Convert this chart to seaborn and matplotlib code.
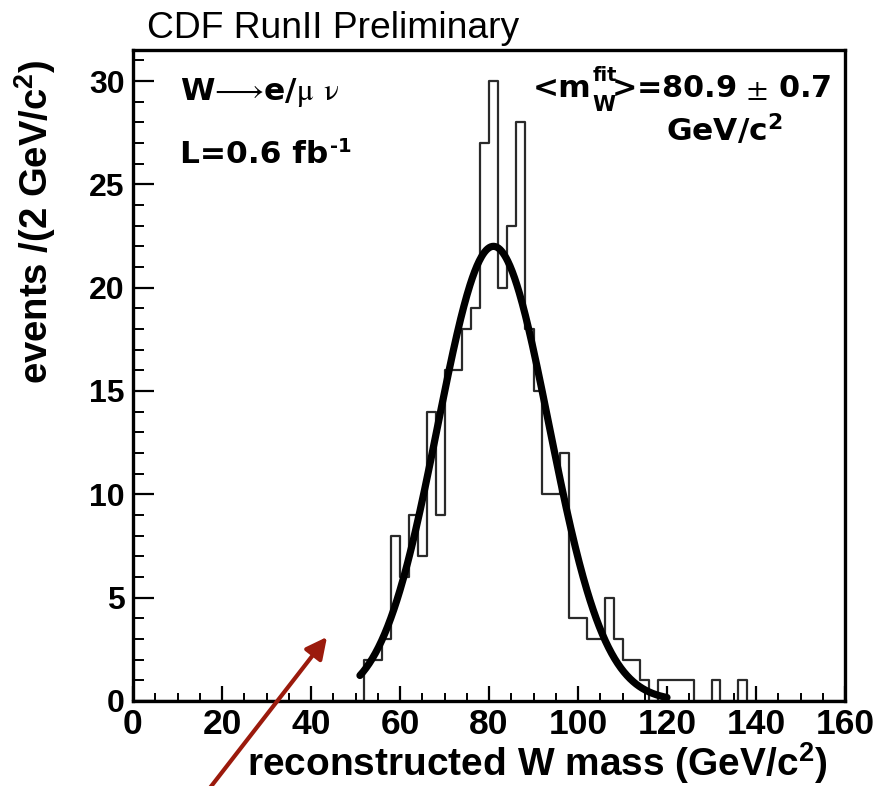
import numpy as np
import pandas as pd
import matplotlib
matplotlib.use("Agg")
import matplotlib.pyplot as plt
from matplotlib import font_manager as fm
from matplotlib.ticker import MultipleLocator
import seaborn as sns

# ---------------- data ----------------
bin_low = list(range(50, 140, 2))          # lower edge of each 2 GeV bin
counts = [0, 2, 2, 3, 8, 6, 9, 7, 14, 9, 16, 16, 18, 19, 27, 30, 20, 23, 28, 18,
          15, 10, 10, 12, 4, 4, 3, 3, 5, 3, 2, 2, 1, 0, 1, 1, 1, 1, 0, 0,
          1, 0, 0, 1, 0]
bin_width = 2
fit_peak = 22.0      # fitted template height
fit_mean = 81.0      # GeV/c^2
fit_sigma = 12.5
fit_range = (51.0, 120.0)
x_ticks = [0, 20, 40, 60, 80, 100, 120, 140, 160]
y_ticks = [0, 5, 10, 15, 20, 25, 30]

# ---------------- fonts / style ----------------
sns.set_style("white")
avail = {f.name for f in fm.fontManager.ttflist}
SANS = "Liberation Sans" if "Liberation Sans" in avail else "DejaVu Sans"
NARROW = "Liberation Sans Narrow" if "Liberation Sans Narrow" in avail else SANS
WIDE = ["DejaVu Sans"]
plt.rcParams["font.family"] = [SANS, "DejaVu Sans"]
plt.rcParams["mathtext.default"] = "regular"
plt.rcParams["mathtext.fontset"] = "stix"
for k in ("text.color", "axes.labelcolor", "xtick.color", "ytick.color",
          "axes.edgecolor"):
    plt.rcParams[k] = "black"

fig = plt.figure(figsize=(8.93, 7.86), dpi=100)
ax = fig.add_axes([133 / 893, 1 - 701 / 786, 712 / 893, 651 / 786])

df = pd.DataFrame({"mass": [b + bin_width / 2 for b in bin_low], "events": counts})
sns.histplot(data=df, x="mass", weights="events",
             binwidth=bin_width, binrange=(x_ticks[0], x_ticks[-1]),
             element="step", fill=False, color="#2a2a2a", linewidth=1.6, ax=ax)

xf = np.linspace(fit_range[0], fit_range[1], 400)
yf = fit_peak * np.exp(-0.5 * ((xf - fit_mean) / fit_sigma) ** 2)
sns.lineplot(x=xf, y=yf, color="black", linewidth=5.2, ax=ax)

ax.set_xlim(x_ticks[0], x_ticks[-1])
ax.set_ylim(0, 31.5)

for s in ax.spines.values():
    s.set_linewidth(2.4)
    s.set_color("black")

ax.xaxis.set_major_locator(MultipleLocator(20))
ax.xaxis.set_minor_locator(MultipleLocator(5))
ax.yaxis.set_major_locator(MultipleLocator(5))
ax.yaxis.set_minor_locator(MultipleLocator(1))
ax.set_xticks(x_ticks)
ax.set_yticks(y_ticks)
ax.tick_params(axis="x", which="major", direction="in", length=11, width=1.6,
               pad=5, bottom=True, top=False)
ax.tick_params(axis="x", which="minor", direction="in", length=6, width=1.4,
               bottom=True, top=False)
ax.tick_params(axis="y", which="major", direction="in", length=15, width=1.6,
               pad=6, left=True, right=False)
ax.tick_params(axis="y", which="minor", direction="in", length=8, width=1.4,
               left=True, right=False)
ax.set_xticklabels([str(t) for t in x_ticks], fontsize=25.5, fontweight="bold",
                   family=[NARROW, "DejaVu Sans"])
ax.set_yticklabels([str(t) for t in y_ticks], fontsize=23, fontweight="bold")

ax.set_xlabel(r"reconstructed W mass (GeV/c$^{2}$)", fontsize=28,
              fontweight="bold", family=[NARROW, "DejaVu Sans"], loc="right")
ax.xaxis.set_label_coords(0.976, -0.06)
ax.set_ylabel(r"events /(2 GeV/c$^{2}$)", fontsize=27.5, fontweight="bold",
              loc="top")
ax.yaxis.set_label_coords(-0.105, 0.985)

# ---------------- annotations ----------------
FS = 22.5
ax.text(0.066, 0.923, r"W$\mathrm{⟶}$e/$\mathrm{\mu}$ $\mathrm{\nu}$",
        transform=ax.transAxes, fontsize=FS, fontweight="bold",
        family=WIDE, va="baseline", ha="left")

t_l = ax.text(0.066, 0.826, "L=0.6 fb", transform=ax.transAxes,
              fontsize=FS, fontweight="bold", family=WIDE,
              va="baseline", ha="left")
ax.annotate("-1", xy=(1.0, 1.0), xycoords=t_l, xytext=(1, 2),
            textcoords="offset points", fontsize=14, fontweight="bold",
            family=WIDE, va="top", ha="left")

t_m = ax.text(0.562, 0.928, "<m", transform=ax.transAxes,
              fontsize=FS, fontweight="bold", family=WIDE,
              va="baseline", ha="left")
t_sup = ax.annotate("fit", xy=(1.0, 1.0), xycoords=t_m, xytext=(0.5, 6),
                    textcoords="offset points", fontsize=14,
                    fontweight="bold", family=WIDE, va="top", ha="left")
t_sub = ax.annotate("W", xy=(1.0, 0.0), xycoords=t_m, xytext=(0, -5.5),
                    textcoords="offset points", fontsize=15,
                    fontweight="bold", family=WIDE, va="baseline", ha="left")
ax.annotate(r">=80.9 $\mathrm{\pm}$ 0.7", xy=(1.0, 0.0),
            xycoords=(t_sub, t_m), xytext=(-3, 0), textcoords="offset points",
            fontsize=21.8, fontweight="bold", family=WIDE,
            va="bottom", ha="left")
ax.text(0.913, 0.859, r"GeV/c$^{2}$", transform=ax.transAxes,
        fontsize=FS, fontweight="bold", family=WIDE,
        va="baseline", ha="right")

fig.text(147 / 893, 1 - 38 / 786, "CDF RunII Preliminary", fontsize=26.8,
         va="baseline", ha="left")

ax.annotate("", xy=(43.6, 3.1), xytext=(17.3, -4.2),
            xycoords="data", textcoords="data", annotation_clip=False,
            arrowprops=dict(arrowstyle="-|>", color="#9b1a0c", lw=3,
                            mutation_scale=32, shrinkA=0, shrinkB=0))

fig.savefig("out.png", dpi=100)
